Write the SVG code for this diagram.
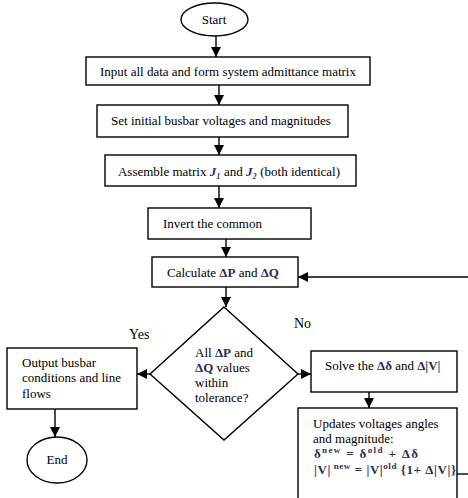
<svg xmlns="http://www.w3.org/2000/svg" width="468" height="498" viewBox="0 0 468 498">
<style>
  .shape { fill: #ffffff; stroke: #000000; stroke-width: 1.4; }
  .conn { fill: none; stroke: #000000; stroke-width: 1.4; }
  text { font-family: "Liberation Serif", "Times New Roman", serif; font-size: 13px; fill: #000000; }
  .sym { font-weight: bold; fill: #2b2b5a; }
  .sup { font-size: 9px; }
  .lbl { font-size: 14px; }
  .mid { text-anchor: middle; }
</style>
<defs>
  <marker id="arrow" viewBox="0 0 10 10" refX="10" refY="5" markerWidth="10" markerHeight="10" markerUnits="userSpaceOnUse" orient="auto">
    <path d="M0,0 L10,5 L0,10 z" fill="#000000"/>
  </marker>
</defs>
<rect width="468" height="498" fill="#ffffff"/>

<g id="start">
  <ellipse class="shape" cx="214.5" cy="19.5" rx="33.5" ry="16.5"/>
  <text class="mid" x="214" y="24">Start</text>
</g>
<g id="input">
  <rect class="shape" x="86" y="57" width="284" height="28"/>
  <text class="mid" x="228" y="76">Input all data and form system admittance matrix</text>
</g>
<g id="init">
  <rect class="shape" x="97" y="105" width="251" height="32"/>
  <text class="mid" x="221" y="125">Set initial busbar voltages and magnitudes</text>
</g>
<g id="assemble">
  <rect class="shape" x="105" y="155" width="251" height="31"/>
  <text class="mid" x="229" y="176">Assemble matrix <tspan class="sym" font-style="italic">J₁</tspan> and <tspan class="sym" font-style="italic">J₂</tspan> (both identical)</text>
</g>
<g id="invert">
  <rect class="shape" x="148" y="208" width="163" height="31"/>
  <text x="163" y="228">Invert the common</text>
</g>
<g id="calculate">
  <rect class="shape" x="152" y="257" width="146" height="30"/>
  <text x="167" y="277">Calculate <tspan class="sym">ΔP</tspan> and <tspan class="sym">ΔQ</tspan></text>
</g>
<g id="decision">
  <polygon class="shape" points="224,307 298,374 224,440 150,374"/>
  <text x="195" y="357">All <tspan class="sym">ΔP</tspan> and</text>
  <text x="195" y="372"><tspan class="sym">ΔQ</tspan> values</text>
  <text x="195" y="387">within</text>
  <text x="195" y="402">tolerance?</text>
</g>
<g id="output">
  <rect class="shape" x="7" y="348" width="130" height="61"/>
  <text x="22" y="367">Output busbar</text>
  <text x="22" y="382">conditions and line</text>
  <text x="22" y="398">flows</text>
</g>
<g id="end">
  <ellipse class="shape" cx="57" cy="460" rx="30" ry="23"/>
  <text class="mid" x="57" y="464">End</text>
</g>
<g id="solve">
  <rect class="shape" x="311" y="351" width="146" height="41"/>
  <text x="325" y="370">Solve the <tspan class="sym">Δδ</tspan> and <tspan class="sym">Δ|V|</tspan></text>
</g>
<g id="update">
  <rect class="shape" x="298" y="408" width="159" height="110"/>
  <text x="313" y="428">Updates voltages angles</text>
  <text x="313" y="443">and magnitude:</text>
  <text x="314" y="458" class="sym" textLength="104" lengthAdjust="spacing">δ<tspan class="sup" dy="-5">new</tspan><tspan dy="5"> = δ</tspan><tspan class="sup" dy="-5">old</tspan><tspan dy="5">  +  Δδ</tspan></text>
  <text x="314" y="474" class="sym" textLength="142" lengthAdjust="spacing">|V|<tspan class="sup" dy="-5"> new</tspan><tspan dy="5"> = |V|</tspan><tspan class="sup" dy="-5">old</tspan><tspan dy="5"> {1+ Δ|V|}</tspan></text>
</g>

<g id="connectors">
  <line class="conn" x1="216" y1="36" x2="216" y2="57" marker-end="url(#arrow)"/>
  <line class="conn" x1="219" y1="85" x2="219" y2="105" marker-end="url(#arrow)"/>
  <line class="conn" x1="219" y1="137" x2="219" y2="155" marker-end="url(#arrow)"/>
  <line class="conn" x1="219" y1="186" x2="219" y2="208" marker-end="url(#arrow)"/>
  <line class="conn" x1="226" y1="239" x2="226" y2="257" marker-end="url(#arrow)"/>
  <line class="conn" x1="468" y1="277" x2="298" y2="277" marker-end="url(#arrow)"/>
  <line class="conn" x1="226" y1="287" x2="226" y2="307" marker-end="url(#arrow)"/>
  <line class="conn" x1="150" y1="374" x2="137" y2="374" marker-end="url(#arrow)"/>
  <line class="conn" x1="55" y1="409" x2="55" y2="437" marker-end="url(#arrow)"/>
  <line class="conn" x1="298" y1="374" x2="311" y2="374" marker-end="url(#arrow)"/>
  <line class="conn" x1="369" y1="392" x2="369" y2="408" marker-end="url(#arrow)"/>
  <line class="conn" x1="457" y1="474" x2="468" y2="474"/>
</g>
<text class="lbl" x="129" y="339">Yes</text>
<text class="lbl" x="294" y="328">No</text>
</svg>
